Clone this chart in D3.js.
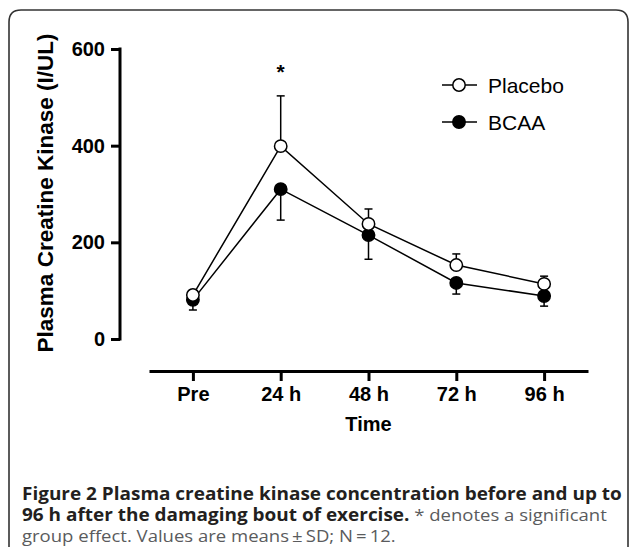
<!DOCTYPE html>
<html>
<head>
<meta charset="utf-8">
<script src="https://cdn.jsdelivr.net/npm/d3@7"></script>
<style>
  html, body { margin: 0; padding: 0; background: #fff; }
  svg { display: block; }
</style>
</head>
<body>
<svg id="chart" width="629" height="547"></svg>
<script>
// ---- data ----
const categories = ["Pre", "24 h", "48 h", "72 h", "96 h"];
const placeboMean = [91, 399, 238, 153, 114];
const placeboSD   = [10, 104, 31, 23, 16];
const bcaaMean    = [81, 310, 215, 116, 89];
const bcaaSD      = [21, 64, 50, 23, 21];
const yTicks = [0, 200, 400, 600];
const seriesNames = ["Placebo", "BCAA"];
const yTitle = "Plasma Creatine Kinase (I/UL)";
const xTitle = "Time";
const captionLines = [
  [{t: "Figure 2 Plasma creatine kinase concentration before and up to", b: true}],
  [{t: "96 h after the damaging bout of exercise.", b: true}, {t: "\u00A0* denotes a significant", b: false}],
  [{t: "group effect. Values are means\u2009\u00B1\u2009SD; N\u2009=\u200912.", b: false}]
];

const svg = d3.select("#chart");
const FONT = "'Liberation Sans', Arial, Helvetica, sans-serif";

// frame
svg.append("path")
  .attr("d", "M9,547 L9,22 Q9,10 21,10 L616,10 Q628,10 628,22 L628,547")
  .attr("fill", "none").attr("stroke", "#333").attr("stroke-width", 1.6);

const x = d3.scalePoint().domain(categories).range([149, 588]).padding(0.5);
const y = d3.scaleLinear().domain([0, 600]).range([339, 49]);

// y axis
const yAxis = svg.append("g").attr("transform", "translate(120,0)")
  .call(d3.axisLeft(y).tickValues(yTicks).tickSizeInner(9).tickSizeOuter(0).tickPadding(6));
yAxis.selectAll("path, line").attr("stroke", "#000").attr("stroke-width", 3);
yAxis.select(".domain").attr("d", `M0,${y(600) - 1.5}V${y(0) + 1.5}`);
yAxis.selectAll("text").attr("font-family", FONT).attr("font-weight", "bold")
  .attr("font-size", 20).attr("fill", "#000");

// x axis
const xAxis = svg.append("g").attr("transform", "translate(0,371)")
  .call(d3.axisBottom(x).tickSizeInner(10).tickSizeOuter(0).tickPadding(6));
xAxis.selectAll("path, line").attr("stroke", "#000").attr("stroke-width", 3);
xAxis.selectAll("text").attr("font-family", FONT).attr("font-weight", "bold")
  .attr("font-size", 20).attr("fill", "#000");

// axis titles
svg.append("text")
  .attr("transform", "translate(53,193) rotate(-90)")
  .attr("text-anchor", "middle")
  .attr("font-family", FONT).attr("font-weight", "bold").attr("font-size", 22.5)
  .text(yTitle);
svg.append("text")
  .attr("x", x("48 h")).attr("y", 431)
  .attr("text-anchor", "middle")
  .attr("font-family", FONT).attr("font-weight", "bold").attr("font-size", 20)
  .text(xTitle);

const series = [
  {name: seriesNames[0], mean: placeboMean, sd: placeboSD, dir: -1, fill: "#fff"},
  {name: seriesNames[1], mean: bcaaMean, sd: bcaaSD, dir: 1, fill: "#000"}
];
const line = d3.line().x((d, i) => x(categories[i])).y(d => y(d));

// draw BCAA first, placebo on top
[series[1], series[0]].forEach(s => {
  const g = svg.append("g");
  s.mean.forEach((m, i) => {
    const cx = x(categories[i]);
    const end = s.dir < 0 ? y(m + s.sd[i]) : y(m - s.sd[i]);
    g.append("line").attr("x1", cx).attr("x2", cx).attr("y1", y(m)).attr("y2", end)
      .attr("stroke", "#000").attr("stroke-width", 1.5);
    g.append("line").attr("x1", cx - 4).attr("x2", cx + 4).attr("y1", end).attr("y2", end)
      .attr("stroke", "#000").attr("stroke-width", 1.5);
  });
  g.append("path").attr("d", line(s.mean)).attr("fill", "none")
    .attr("stroke", "#000").attr("stroke-width", 1.5);
  g.selectAll("circle").data(s.mean).join("circle")
    .attr("cx", (d, i) => x(categories[i])).attr("cy", d => y(d)).attr("r", 6.2)
    .attr("fill", s.fill).attr("stroke", "#000").attr("stroke-width", 1.5);
});

// significance asterisk
svg.append("text")
  .attr("x", x("24 h")).attr("y", 79)
  .attr("text-anchor", "middle")
  .attr("font-family", FONT).attr("font-weight", "bold").attr("font-size", 21)
  .text("*");

// legend
series.forEach((s, i) => {
  const ly = 85 + i * 37;
  const g = svg.append("g");
  g.append("line").attr("x1", 442).attr("x2", 477).attr("y1", ly).attr("y2", ly)
    .attr("stroke", "#000").attr("stroke-width", 1.5);
  g.append("circle").attr("cx", 459).attr("cy", ly).attr("r", 6.2)
    .attr("fill", s.fill).attr("stroke", "#000").attr("stroke-width", 1.5);
  g.append("text").attr("x", 488).attr("y", ly).attr("dy", "0.36em")
    .attr("font-family", FONT).attr("font-size", 21).attr("fill", "#000")
    .text(s.name);
});

// caption (horizontally condensed to match the narrow original typeface)
const CAP_FONT = "'Open Sans', 'Noto Sans', sans-serif";
const CAP_SIZE = 17;
const capG = svg.append("g");
function measure(p) {
  const t = capG.append("text").attr("font-family", CAP_FONT).attr("font-size", CAP_SIZE)
    .attr("font-weight", p.b ? "bold" : "normal").text(p.t);
  const w = t.node().getComputedTextLength();
  t.remove();
  return w;
}
const sBold = 600 / measure(captionLines[0][0]);
const sReg = (585 - measure(captionLines[1][0]) * sBold) / measure(captionLines[1][1]);
captionLines.forEach((parts, li) => {
  let cursor = 22;
  const base = 500 + li * 21;
  parts.forEach(p => {
    const s = p.b ? sBold : sReg;
    const t = capG.append("text")
      .attr("transform", `translate(${cursor},${base}) scale(${s},1)`)
      .attr("font-family", CAP_FONT).attr("font-size", CAP_SIZE)
      .attr("font-weight", p.b ? "bold" : "normal")
      .attr("fill", p.b ? "#231f20" : "#5a5b5d")
      .text(p.t);
    cursor += t.node().getComputedTextLength() * s;
  });
});
</script>
</body>
</html>
